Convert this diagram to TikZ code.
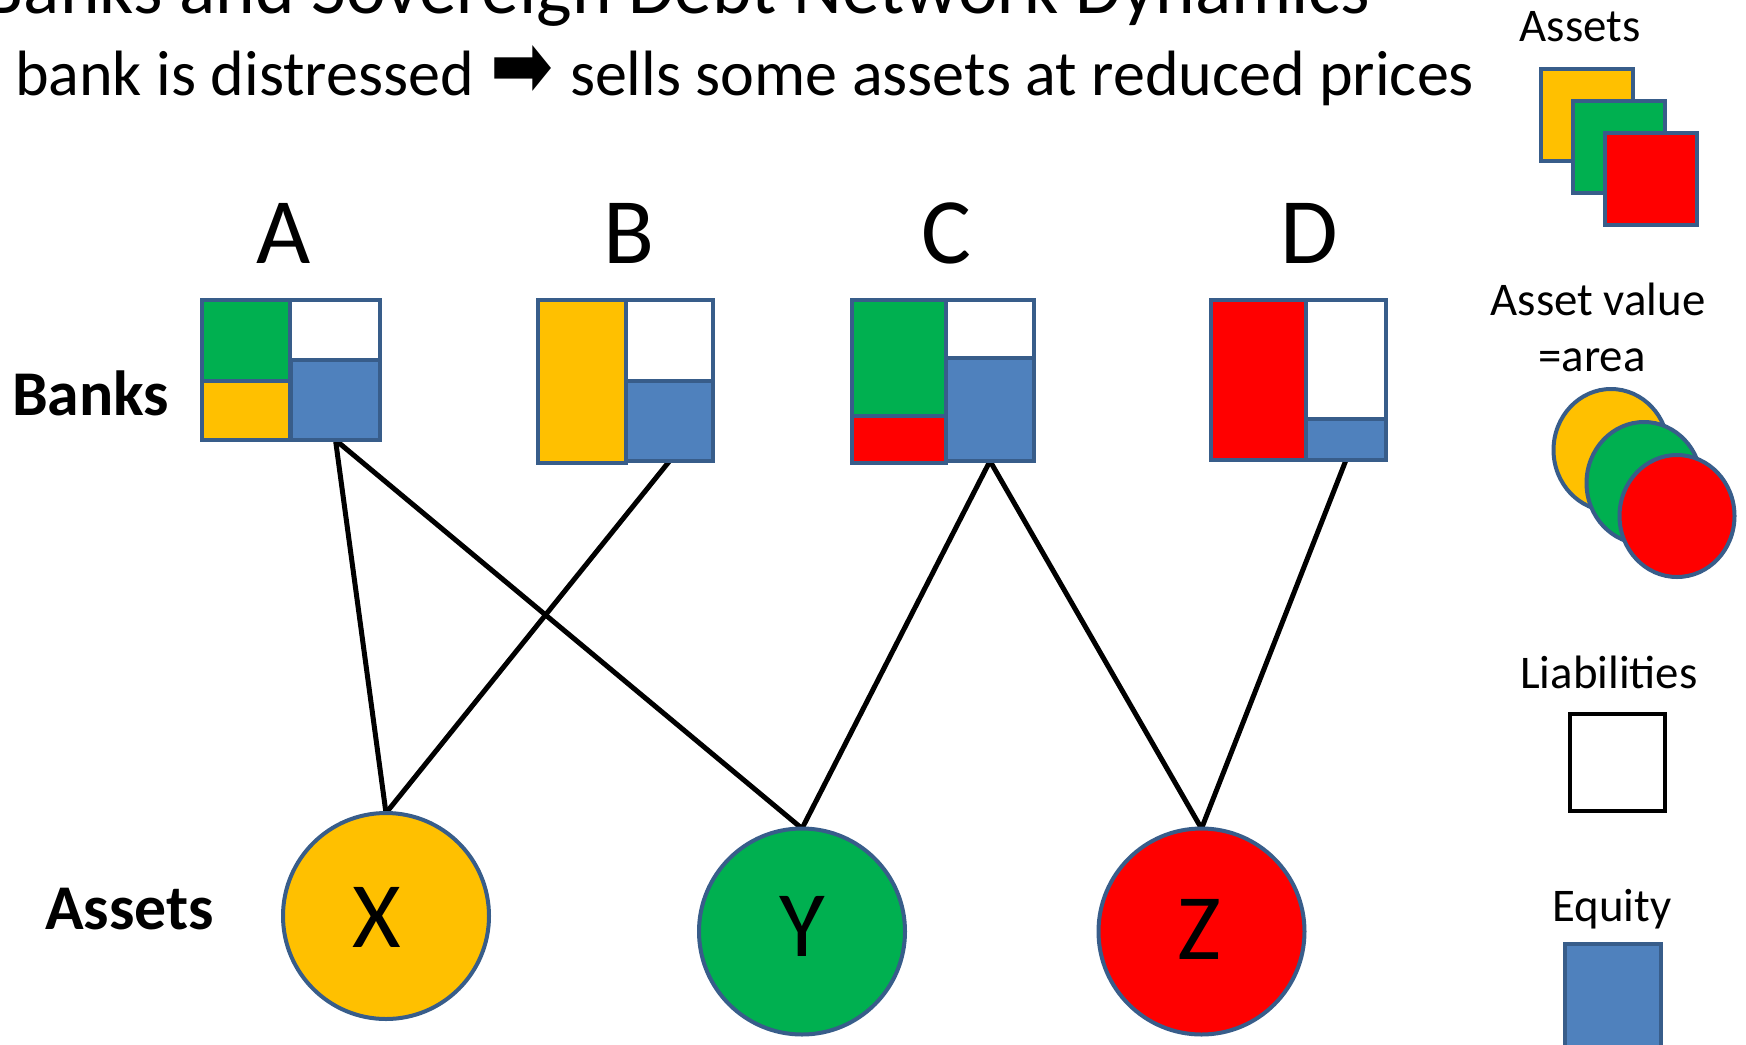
\documentclass[tikz,border=0pt]{standalone}
\usepackage{fontspec}
\setmainfont{Carlito}
\newfontfamily\dejavu{DejaVu Sans}
\usetikzlibrary{fit,shapes.geometric,backgrounds}
\definecolor{bord}{RGB}{56,93,138}
\definecolor{yel}{RGB}{255,192,0}
\definecolor{grn}{RGB}{0,176,80}
\definecolor{rd}{RGB}{255,0,0}
\definecolor{eqc}{RGB}{79,129,189}
\begin{document}
\begin{tikzpicture}[x=1bp,y=-1bp,
  cell/.style={rectangle, draw=bord, line width=4.8bp, inner sep=0pt, outer sep=0pt},
  asset/.style={circle, draw=bord, line width=4bp, minimum size=206bp, inner sep=0pt, outer sep=0pt},
  legell/.style={ellipse, draw=bord, line width=4bp, minimum width=115bp, minimum height=122bp, inner sep=0pt, outer sep=0pt},
  link/.style={line width=5bp, draw=black},
  txt/.style={inner sep=0pt, outer sep=0pt, text=black},
  legtxt/.style={txt, font=\fontsize{47}{56}\selectfont, anchor=base},
  bigletter/.style={txt, font=\fontsize{94}{110}\selectfont},
  rowlabel/.style={txt, font=\fontsize{64}{76}\selectfont\bfseries, anchor=base west}
]
\useasboundingbox (0,0) rectangle (1746,1044);
\clip (0,0) rectangle (1746,1044);

% titles
\node[txt, anchor=base west, font=\fontsize{75.6}{90}\selectfont] (title) at (-17,13.5) {Banks and Sovereign Debt Network Dynamics};
\node[txt, anchor=base west, font=\fontsize{64.3}{76}\selectfont] (subA) at (15,95) {bank is distressed};
\node[txt] (arr) at (522,71.5) {\resizebox{63bp}{52bp}{\dejavu ➡}};
\node[txt, anchor=base west, font=\fontsize{64.3}{76}\selectfont] (subB) at (570,95) {sells some assets at reduced prices};

% bank letters
\node[bigletter, anchor=base] (lA) at (284,263) {A};
\node[bigletter, anchor=base] (lB) at (629,263) {B};
\node[bigletter, anchor=base] (lC) at (946,263) {C};
\node[bigletter, anchor=base] (lD) at (1309,263) {D};

% row labels
\node[rowlabel] (banks) at (12,415) {Banks};
\node[rowlabel] (assetsrow) at (45,929) {Assets};

% bank A
\node[cell, fill=grn, fit={(202,300) (290,381)}] (gA) {};
\node[cell, fill=yel, fit={(202,381) (290,440)}] (yA) {};
\node[cell, fill=white, fit={(290,300) (380,360)}] (wA) {};
\node[cell, fill=eqc, fit={(291,360) (380,440)}] (eA) {};
% bank B
\node[cell, fill=yel, fit={(538,300) (626,463)}] (yB) {};
\node[cell, fill=white, fit={(626,300) (713,381)}] (wB) {};
\node[cell, fill=eqc, fit={(626,381) (713,461)}] (eB) {};
% bank C
\node[cell, fill=grn, fit={(852,300) (946,416)}] (gC) {};
\node[cell, fill=rd, fit={(852,416) (946,463)}] (rC) {};
\node[cell, fill=white, fit={(946,300) (1034,358)}] (wC) {};
\node[cell, fill=eqc, fit={(946,358) (1034,461)}] (eC) {};
% bank D
\node[cell, fill=rd, fit={(1211,300) (1306,460)}] (rD) {};
\node[cell, fill=white, fit={(1306,300) (1386,419)}] (wD) {};
\node[cell, fill=eqc, fit={(1306,419) (1386,460)}] (eD) {};

% assets
\node[asset, fill=yel] (X) at (386,916) {};
\node[asset, fill=grn] (Y) at (802,931.5) {};
\node[asset, fill=rd] (Z) at (1201.5,931.5) {};
\node[bigletter] (tX) at (377,917) {X};
\node[bigletter] (tY) at (802,926) {Y};
\node[bigletter] (tZ) at (1199,929.5) {Z};

% connectors
\begin{scope}[on background layer]
\draw[link] (eA.south) -- (X.north);
\draw[link] (eA.south) -- (Y.north);
\draw[link] (eB.south) -- (X.north);
\draw[link] (eC.south) -- (Y.north);
\draw[link] (eC.south) -- (Z.north);
\draw[link] (eD.south) -- (Z.north);
\end{scope}

% legend
\node[legtxt] (legA) at (1580,41) {Assets};
\node[cell, fill=yel, fit={(1541,69) (1633,161)}] (lsy) {};
\node[cell, fill=grn, fit={(1573,101) (1665,193)}] (lsg) {};
\node[cell, fill=rd, fit={(1605,133) (1697,225)}] (lsr) {};

\node[legtxt] (legV1) at (1598,315) {Asset value};
\node[legtxt] (legV2) at (1592,371) {=area};
\node[legell, fill=yel] (ley) at (1611,450) {};
\node[legell, fill=grn] (leg) at (1644,483) {};
\node[legell, fill=rd] (ler) at (1677,516) {};

\node[legtxt] (legL) at (1609,688) {Liabilities};
\node[rectangle, draw=black, line width=4.5bp, fill=white, inner sep=0pt, outer sep=0pt, fit={(1570,714) (1665,811)}] (lliab) {};

\node[legtxt] (legE) at (1612,921) {Equity};
\node[cell, fill=eqc, fit={(1565,944) (1661,1052)}] (leq) {};
\end{tikzpicture}
\end{document}
